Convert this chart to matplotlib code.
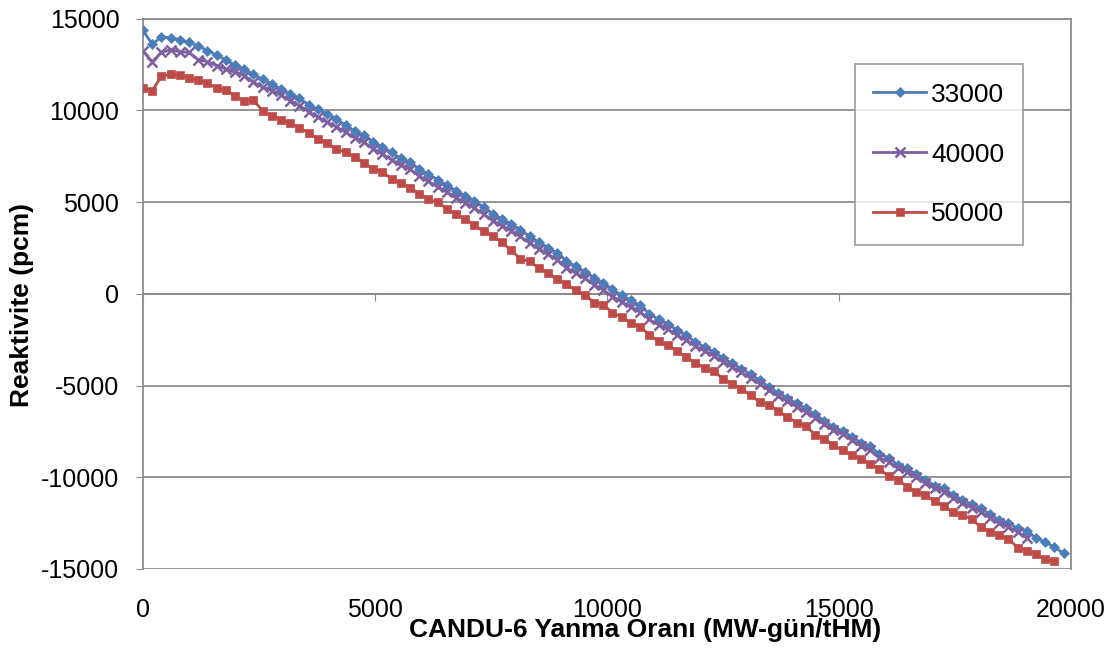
import numpy as np
import matplotlib
matplotlib.use("Agg")
import matplotlib.pyplot as plt

plt.rcParams["font.family"] = ["Liberation Sans", "DejaVu Sans"]
plt.rcParams["axes.unicode_minus"] = False

# burnup step between calculation points (MW-gün/tHM)
X_STEP = 198.4

# reactivity (pcm), one value per burnup step
R_33000 = [
    14350, 13600, 14000, 13950, 13850, 13700, 13500, 13250, 13000, 12750,
    12450, 12250, 11950, 11700, 11450, 11150, 10900, 10650, 10300, 10050,
    9800, 9550, 9180, 8880, 8640, 8280, 8010, 7700, 7380, 7190,
    6790, 6520, 6210, 5920, 5620, 5340, 5070, 4710, 4350, 4080,
    3800, 3500, 3120, 2810, 2500, 2230, 1780, 1500, 1210, 870,
    600, 240, -90, -360, -640, -1090, -1400, -1630, -1990, -2270,
    -2630, -2900, -3170, -3500, -3800, -4080, -4400, -4710, -5070, -5400,
    -5670, -5980, -6250, -6580, -6920, -7250, -7480, -7790, -8110, -8310,
    -8750, -8930, -9330, -9510, -9840, -10150, -10450, -10600, -10960, -11230,
    -11470, -11680, -12010, -12320, -12500, -12770, -12920, -13310, -13530, -13820,
    -14130,
]
R_40000 = [
    13210, 12650, 13150, 13300, 13190, 13150, 12750, 12650, 12430, 12250,
    12070, 11890, 11525, 11250, 11070, 10830, 10520, 10250, 9920, 9620,
    9350, 9100, 8800, 8500, 8250, 7900, 7620, 7300, 7000, 6780,
    6420, 6130, 5820, 5540, 5230, 4960, 4680, 4330, 3980, 3700,
    3430, 3120, 2760, 2440, 2140, 1850, 1420, 1130, 840, 490,
    210, -150, -450, -720, -1000, -1400, -1700, -1920, -2260, -2520,
    -2850, -3120, -3380, -3700, -4000, -4280, -4600, -4900, -5250, -5580,
    -5850, -6160, -6430, -6750, -7100, -7420, -7660, -7980, -8300, -8520,
    -8950, -9150, -9520, -9700, -10010, -10300, -10600, -10780, -11120, -11400,
    -11650, -11870, -12200, -12500, -12700, -12980, -13300,
]
R_50000 = [
    11215, 11070, 11850, 11960, 11900, 11780, 11630, 11470, 11215, 11120,
    10760, 10520, 10560, 9960, 9690, 9490, 9290, 9050, 8760, 8440,
    8200, 7890, 7710, 7450, 7150, 6800, 6650, 6260, 6050, 5780,
    5460, 5170, 4980, 4640, 4340, 4060, 3740, 3400, 3150, 2800,
    2360, 1905, 1760, 1400, 1143, 780, 545, 180, -55, -490,
    -600, -1035, -1270, -1580, -1815, -2230, -2600, -2810, -3120, -3445,
    -3760, -4045, -4230, -4625, -4900, -5170, -5535, -5900, -6040, -6400,
    -6710, -7020, -7200, -7675, -7890, -8260, -8530, -8800, -8980, -9290,
    -9565, -9925, -10125, -10525, -10800, -10980, -11310, -11560, -11920, -12030,
    -12290, -12700, -12975, -13160, -13340, -13840, -14010, -14190, -14480, -14550,
]

SERIES = [
    ("33000", R_33000, "#4A7EBB", "D", 5.0, 0.5),
    ("40000", R_40000, "#7D60A0", "x", 7.0, 1.8),
    ("50000", R_50000, "#BE4B48", "s", 6.0, 0.5),
]
X_TICKS = [0, 5000, 10000, 15000, 20000]
Y_TICKS = [-15000, -10000, -5000, 0, 5000, 10000, 15000]

GRID = "#8C8C8C"

fig = plt.figure(figsize=(11.16, 6.49), dpi=100)
ax = fig.add_axes([143 / 1116, 1 - 569 / 649, 928 / 1116, 550.5 / 649])

for name, vals, col, mk, ms, mew in SERIES:
    x = np.arange(len(vals)) * X_STEP
    ax.plot(x, vals, color=col, lw=2.0, marker=mk, ms=ms, mew=mew,
            mec=col, mfc=col, label=name, zorder=3)

ax.set_xlim(0, 20000)
ax.set_ylim(-15000, 15000)
ax.set_yticks(Y_TICKS)
ax.set_xticks(X_TICKS)
ax.grid(axis="y", color=GRID, lw=1.3, zorder=0)
ax.set_axisbelow(True)

# Excel style: horizontal axis crosses at 0, labels at the bottom
ax.spines["bottom"].set_position(("data", 0))
for s in ["top", "right", "left", "bottom"]:
    ax.spines[s].set_color(GRID)
    ax.spines[s].set_linewidth(1.3)
ax.tick_params(axis="x", direction="out", length=5, color=GRID,
               labelbottom=False)
ax.tick_params(axis="y", direction="out", length=5, color=GRID,
               labelsize=18, pad=12)

sec = ax.secondary_xaxis("bottom")
sec.set_xticks(X_TICKS)
sec.spines["bottom"].set_visible(False)
sec.tick_params(length=0, labelsize=18, pad=21)

ax.set_xlabel("CANDU-6 Yanma Oranı (MW-gün/tHM)", fontsize=19,
              fontweight="bold", va="center")
ax.xaxis.set_label_coords(0.541, -0.11)
ax.set_ylabel("Reaktivite (pcm)", fontsize=19, fontweight="bold",
              va="center")
ax.yaxis.set_label_coords(-0.130, 0.48)

leg = ax.legend(loc="upper left", bbox_to_anchor=(0.767, 0.917),
                fontsize=19, frameon=True, fancybox=False,
                borderpad=0.7, labelspacing=1.36, handlelength=2.0,
                handletextpad=0.2, borderaxespad=0)
leg.get_frame().set_edgecolor(GRID)
leg.get_frame().set_linewidth(1.3)

fig.savefig("out.png", dpi=100)
